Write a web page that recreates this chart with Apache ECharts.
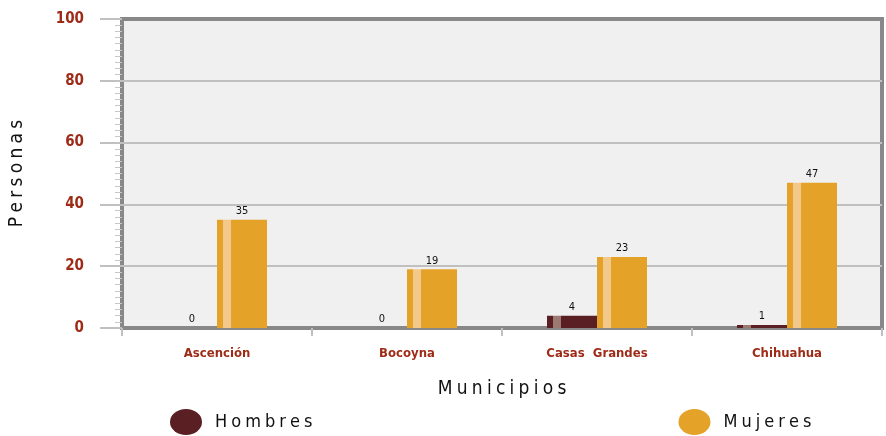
<!DOCTYPE html>
<html>
<head>
<meta charset="utf-8">
<script src="https://cdn.jsdelivr.net/npm/echarts@6/dist/echarts.min.js"></script>
<style>
  html, body { margin: 0; padding: 0; background: #fff; }
  #chart { width: 886px; height: 436px; }
</style>
</head>
<body>
<div id="chart"></div>
<script>
// datos del gráfico
const municipios = ["Ascención", "Bocoyna", "Casas  Grandes", "Chihuahua"];
const hombres = [0, 0, 4, 1];
const mujeres = [35, 19, 23, 47];
const yTicks = [0, 20, 40, 60, 80, 100];

const FONT = "'DejaVu Sans Condensed', 'Liberation Sans Narrow', sans-serif";
const RED = "#9e2b17";
const MAROON = "#5a1f22";
const ORANGE = "#e4a229";

// barra con franja clara cerca del borde izquierdo
const stripe = (base, light) => new echarts.graphic.LinearGradient(0, 0, 1, 0, [
  { offset: 0, color: base },
  { offset: 0.12, color: base },
  { offset: 0.12, color: light },
  { offset: 0.28, color: light },
  { offset: 0.28, color: base },
  { offset: 1, color: base }
]);

// letras espaciadas (espacio de cuarto de em)
const spaced = s => s.split("").join("\u2005");

const chart = echarts.init(document.getElementById("chart"));

const barLabel = {
  show: true,
  position: "top",
  distance: 3,
  color: "#111",
  fontSize: 11,
  fontFamily: FONT
};

chart.setOption({
  animation: false,
  backgroundColor: "#fff",
  grid: {
    left: 119,
    right: 4,
    top: 19,
    bottom: 108,
    show: true,
    backgroundColor: "#f0f0f0",
    borderColor: "#888",
    borderWidth: 4
  },
  legend: {
    left: 170,
    top: 409,
    padding: 0,
    itemGap: 366,
    itemWidth: 32,
    itemHeight: 26,
    symbolKeepAspect: false,
    icon: "path://M0,50 A50,50 0 1,1 100,50 A50,50 0 1,1 0,50 Z",
    data: [
      { name: "Hombres", itemStyle: { color: MAROON } },
      { name: "Mujeres", itemStyle: { color: ORANGE } }
    ],
    formatter: n => spaced(n),
    textStyle: {
      fontFamily: FONT,
      fontSize: 18,
      color: "#111",
      padding: [0, 0, 0, 8]
    }
  },
  xAxis: {
    type: "category",
    data: municipios,
    name: spaced("Municipios"),
    nameLocation: "middle",
    nameGap: 52,
    nameTextStyle: { fontFamily: FONT, fontSize: 19, color: "#111" },
    axisLine: { show: false },
    axisTick: {
      show: true,
      interval: 0,
      length: 8,
      lineStyle: { color: "#c0c0c0", width: 2 }
    },
    axisLabel: {
      color: RED,
      fontFamily: FONT,
      fontSize: 13,
      fontWeight: "bold",
      margin: 19
    }
  },
  yAxis: {
    type: "value",
    min: yTicks[0],
    max: yTicks[yTicks.length - 1],
    interval: 20,
    name: spaced("Personas"),
    nameLocation: "middle",
    nameGap: 95,
    nameTextStyle: { fontFamily: FONT, fontSize: 19, color: "#111" },
    axisLine: { show: false },
    axisTick: {
      show: true,
      length: 22,
      lineStyle: { color: "#c0c0c0", width: 2 }
    },
    minorTick: {
      show: true,
      splitNumber: 10,
      length: 7,
      lineStyle: { color: "#c8c8c8", width: 1 }
    },
    splitLine: {
      showMinLine: false,
      showMaxLine: false,
      lineStyle: { color: "#c0c0c0", width: 2 }
    },
    axisLabel: {
      color: RED,
      fontFamily: FONT,
      fontSize: 15,
      fontWeight: "bold",
      margin: 38
    }
  },
  series: [
    {
      name: "Hombres",
      type: "bar",
      data: hombres,
      barWidth: 50,
      barGap: "0%",
      itemStyle: { color: stripe(MAROON, "#9c7a72") },
      label: barLabel
    },
    {
      name: "Mujeres",
      type: "bar",
      data: mujeres,
      barWidth: 50,
      itemStyle: { color: stripe(ORANGE, "#f2c98a") },
      label: barLabel
    }
  ]
});

window.addEventListener("resize", () => chart.resize());
</script>
</body>
</html>
